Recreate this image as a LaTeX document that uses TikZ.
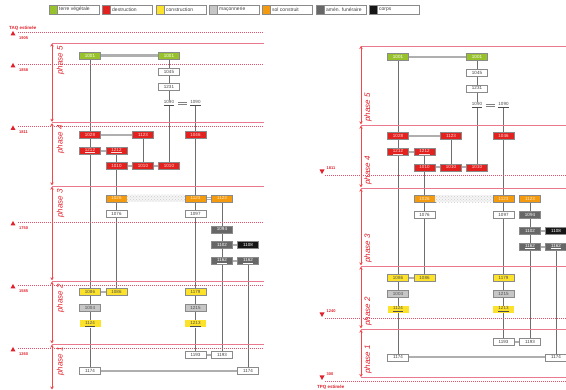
\documentclass[tikz,border=0pt]{standalone}
\usepackage{fontspec}
\setmainfont{Liberation Sans}
\usetikzlibrary{arrows.meta,backgrounds,patterns}
\definecolor{tvcol}{HTML}{98C22B}
\definecolor{decol}{HTML}{E3211F}
\definecolor{cocol}{HTML}{FDE22C}
\definecolor{macol}{HTML}{C6C6C6}
\definecolor{socol}{HTML}{F39A0E}
\definecolor{afcol}{HTML}{676767}
\definecolor{cpcol}{HTML}{161616}
\definecolor{phline}{HTML}{EA7990}
\definecolor{dtline}{HTML}{E2506B}
\definecolor{redtxt}{HTML}{E0202A}
\definecolor{arrred}{HTML}{F2474B}
\definecolor{boxline}{HTML}{8A8A8A}
\definecolor{vcol}{HTML}{6E6E6E}
\definecolor{hcol}{HTML}{AFAFAF}
\tikzset{
  ubox/.style={draw=boxline, line width=0.5pt, minimum width=21pt, minimum height=7pt, inner sep=0pt, font=\fontsize{4.5}{5}\selectfont, text=black!75},
  tv/.style={ubox, fill=tvcol, text=white},
  de/.style={ubox, fill=decol, text=white!85!decol},
  co/.style={ubox, fill=cocol, text=black!70},
  coplain/.style={ubox, fill=cocol, draw=none, text=black!70},
  ma/.style={ubox, fill=macol, text=black!70},
  so/.style={ubox, fill=socol, text=white!80!socol},
  af/.style={ubox, fill=afcol, text=white},
  cp/.style={ubox, fill=cpcol, text=white},
  wh/.style={ubox, fill=white},
  txt/.style={fill=white, inner sep=0.6pt, font=\fontsize{4.5}{5}\selectfont, text=black!70},
  band/.style={minimum width=58pt, minimum height=7pt, inner sep=0pt, preaction={fill=gray!8}, pattern=crosshatch dots, pattern color=gray!40},
  vlink/.style={draw=vcol, line width=0.9pt},
  hlink/.style={draw=hcol, line width=2.2pt},
  dlink/.style={draw=hcol, line width=0.8pt, double=white, double distance=1.2pt},
  eqbar/.style={draw=gray, line width=0.6pt, shorten <=3pt, shorten >=3pt},
  phaseln/.style={draw=phline, line width=0.8pt},
  dateln/.style={draw=dtline, line width=0.6pt, dash pattern=on 1pt off 1pt},
  phar/.style={draw=arrred, line width=0.8pt, arrows={Stealth[length=3pt,width=3.5pt]-Stealth[length=3pt,width=3.5pt]}},
  phlabel/.style={rotate=90, inner sep=0pt, font=\fontsize{8}{9}\selectfont\itshape, text=redtxt},
  datelabel/.style={inner sep=0pt, anchor=west, font=\fontsize{4}{5}\selectfont\bfseries, text=redtxt},
  legbox/.style={draw=boxline, line width=0.5pt, minimum width=50pt, minimum height=9pt, inner sep=0pt},
  swatch/.style={draw=boxline, line width=0.5pt, minimum width=8pt, minimum height=9pt, inner sep=0pt},
  legtxt/.style={anchor=west, inner sep=0pt, font=\fontsize{5}{6}\selectfont, text=black!75},
}
\begin{document}
\begin{tikzpicture}[x=1pt,y=-1pt]
\useasboundingbox (0,0) rectangle (566,390);
% ---------- legend
\foreach \x/\c/\t [count=\i] in {49/tvcol/terre végétale,102/decol/destruction,156/cocol/construction,209/macol/maçonnerie,262/socol/sol construit,316/afcol/amén. funéraire,369/cpcol/corps}{
  \node[legbox] (lg\i) at (\x+25,9.5) {};
  \node[swatch, fill=\c] (sw\i) at (\x+4,9.5) {};
  \node[legtxt] (lt\i) at (\x+10,9.5) {\t};
}
% ---------- left frame
\node[inner sep=0pt, anchor=west, font=\fontsize{4.5}{5}\selectfont\bfseries, text=redtxt] (taq) at (9,28) {TAQ estimée};
\foreach \y/\d in {32/1905,64/1858,126.5/1811,222/1750,285/1585,348/1260}{
  \draw[dateln] (18,\y) -- (263,\y);
  \fill[redtxt] (10.5,\y+3.5) -- (15.5,\y+3.5) -- (13,\y-1) -- cycle;
  \node[datelabel] at (19,\y+6) {\d};
}
\foreach \y in {43.5,122.5,186,281,344}{ \draw[phaseln] (52,\y) -- (264,\y); }
\draw[phar] (52,43.5) -- (52,121.8);
\draw[phar] (52,123.2) -- (52,185.3);
\draw[phar] (52,186.7) -- (52,280.3);
\draw[phar] (52,281.7) -- (52,343.3);
\draw[phar] (52,344.7) -- (52,389.5);
\node[phlabel, anchor=east] at (60.5,46) {phase 5};
\node[phlabel, anchor=east] at (60.5,125) {phase 4};
\node[phlabel, anchor=east] at (60.5,189) {phase 3};
\node[phlabel, anchor=east] at (60.5,284) {phase 2};
\node[phlabel, anchor=east] at (60.5,347) {phase 1};
% ---------- right frame
\foreach \y/\d in {175/1811,318/1240,381/300}{
  \draw[dateln] (325,\y) -- (566,\y);
  \fill[redtxt] (319.5,\y-5.5) -- (324.5,\y-5.5) -- (322,\y-1) -- cycle;
  \node[datelabel] at (326.5,\y-6.5) {\d};
}
\node[inner sep=0pt, anchor=west, font=\fontsize{4.5}{5}\selectfont\bfseries, text=redtxt] (tpq) at (317,387.5) {TPQ estimée};
\foreach \y in {46,125,188,266,329,377}{ \draw[phaseln] (361,\y) -- (566,\y); }
\draw[phar] (361,46) -- (361,124.3);
\draw[phar] (361,125.7) -- (361,187.3);
\draw[phar] (361,188.7) -- (361,265.3);
\draw[phar] (361,266.7) -- (361,328.3);
\draw[phar] (361,329.7) -- (361,377);
\node[phlabel, anchor=west] at (368,122) {phase 5};
\node[phlabel, anchor=west] at (368,185) {phase 4};
\node[phlabel, anchor=west] at (368,263) {phase 3};
\node[phlabel, anchor=west] at (368,326) {phase 2};
\node[phlabel, anchor=west] at (368,374) {phase 1};
% ---------- left diagram nodes
\node[tv] (L1001a) at (90,55.5) {1001};
\node[tv] (L1001b) at (169,55.5) {1001};
\node[wh] (L1045) at (169,71.7) {1045};
\node[wh] (L1231) at (169,87) {1231};
\node[txt] (L1090a) at (169,103) {\underline{1090}};
\node[txt] (L1090b) at (195.5,103) {\underline{1090}};
\node[de] (L1028) at (90,135) {1028};
\node[de] (L1123r) at (143,135) {1123};
\node[de] (L1046) at (195.5,135) {1046};
\node[de] (L1212a) at (90,150.7) {\underline{1212}};
\node[de] (L1212b) at (116.5,150.7) {\underline{1212}};
\node[de] (L1010a) at (116.5,165.7) {1010};
\node[de] (L1010b) at (143,165.7) {1010};
\node[de] (L1010c) at (169,165.7) {1010};
\node[so] (L1026) at (116.5,198.3) {1026};
\node[band] (Lband) at (156,198.3) {};
\node[so] (L1123o) at (195.5,198.3) {1123};
\node[so] (L1123p) at (222,198.3) {1123};
\node[wh] (L1076) at (116.5,214) {1076};
\node[wh] (L1097) at (195.5,214) {1097};
\node[af] (L1094) at (222,229.3) {1094};
\node[af] (L1102) at (222,245) {1102};
\node[cp] (L1108) at (248,245) {1108};
\node[af] (L1162a) at (222,261) {\underline{1162}};
\node[af] (L1162b) at (248,261) {\underline{1162}};
\node[co] (L1086a) at (90,292) {1086};
\node[co] (L1086b) at (116.5,292) {1086};
\node[co] (L1179) at (195.5,292) {1179};
\node[ma] (L1004) at (90,308) {1004};
\node[ma] (L1215) at (195.5,308) {1215};
\node[coplain] (L1124) at (90,324) {\underline{1124}};
\node[coplain] (L1213) at (195.5,324) {\underline{1213}};
\node[wh] (L1193a) at (195.5,355) {1193};
\node[wh] (L1193b) at (222,355) {1193};
\node[wh] (L1174a) at (90,371) {1174};
\node[wh] (L1174b) at (248,371) {1174};
% ---------- right diagram nodes
\node[tv] (R1001a) at (398,56.7) {1001};
\node[tv] (R1001b) at (477,56.7) {1001};
\node[wh] (R1045) at (477,72.7) {1045};
\node[wh] (R1231) at (477,88.3) {1231};
\node[txt] (R1090a) at (477,105) {\underline{1090}};
\node[txt] (R1090b) at (503.5,105) {\underline{1090}};
\node[de] (R1028) at (398,135.7) {1028};
\node[de] (R1123r) at (451,135.7) {1123};
\node[de] (R1046) at (503.5,135.7) {1046};
\node[de] (R1212a) at (398,152) {\underline{1212}};
\node[de] (R1212b) at (424.5,152) {\underline{1212}};
\node[de] (R1010a) at (424.5,167.3) {1010};
\node[de] (R1010b) at (451,167.3) {1010};
\node[de] (R1010c) at (477,167.3) {1010};
\node[so] (R1026) at (424.5,199) {1026};
\node[band] (Rband) at (464,199) {};
\node[so] (R1123o) at (503.5,199) {1123};
\node[so] (R1123p) at (530,199) {1123};
\node[wh] (R1076) at (424.5,215) {1076};
\node[wh] (R1097) at (503.5,215) {1097};
\node[af] (R1094) at (530,215) {1094};
\node[af] (R1102) at (530,230.7) {1102};
\node[cp] (R1108) at (556,230.7) {1108};
\node[af] (R1162a) at (530,246.7) {\underline{1162}};
\node[af] (R1162b) at (556,246.7) {\underline{1162}};
\node[co] (R1086a) at (398,278) {1086};
\node[co] (R1086b) at (424.5,278) {1086};
\node[co] (R1179) at (503.5,278) {1179};
\node[ma] (R1004) at (398,294) {1004};
\node[ma] (R1215) at (503.5,294) {1215};
\node[coplain] (R1124) at (398,309.3) {\underline{1124}};
\node[coplain] (R1213) at (503.5,309.3) {\underline{1213}};
\node[wh] (R1193a) at (503.5,341.7) {1193};
\node[wh] (R1193b) at (530,341.7) {1193};
\node[wh] (R1174a) at (398,357.3) {1174};
\node[wh] (R1174b) at (556,357.3) {1174};
% ---------- connectors (behind)
\begin{scope}[on background layer]
\foreach \p in {L,R}{
  \draw[vlink] (\p1001a) -- (\p1028) -- (\p1212a) -- (\p1086a) -- (\p1004) -- (\p1124) -- (\p1174a);
  \draw[vlink] (\p1212b) -- (\p1010a) -- (\p1026) -- (\p1076) -- (\p1086b);
  \draw[vlink] (\p1123r) -- (\p1010b);
  \draw[vlink] (\p1001b) -- (\p1045) -- (\p1231) -- (\p1090a) -- (\p1010c);
  \draw[vlink] (\p1090b) -- (\p1046) -- (\p1123o) -- (\p1097) -- (\p1179) -- (\p1215) -- (\p1213) -- (\p1193a);
  \draw[vlink] (\p1123p) -- (\p1094) -- (\p1102) -- (\p1162a) -- (\p1193b);
  \draw[vlink] (\p1162b) -- (\p1174b);
  \draw[hlink] (\p1001a) -- (\p1001b);
  \draw[hlink] (\p1028) -- (\p1123r);
  \draw[hlink] (\p1212a) -- (\p1212b);
  \draw[hlink] (\p1010a) -- (\p1010b) -- (\p1010c);
  \draw[dlink] (\p1123o) -- (\p1123p);
  \draw[hlink] (\p1102) -- (\p1108);
  \draw[hlink] (\p1162a) -- (\p1162b);
  \draw[hlink] (\p1086a) -- (\p1086b);
  \draw[hlink] (\p1193a) -- (\p1193b);
  \draw[hlink] (\p1174a) -- (\p1174b);
}
\end{scope}
\foreach \p in {L,R}{
  \draw[eqbar] ([yshift=-0.9pt]\p1090a.east) -- ([yshift=-0.9pt]\p1090b.west);
  \draw[eqbar] ([yshift=0.9pt]\p1090a.east) -- ([yshift=0.9pt]\p1090b.west);
}
\end{tikzpicture}
\end{document}
